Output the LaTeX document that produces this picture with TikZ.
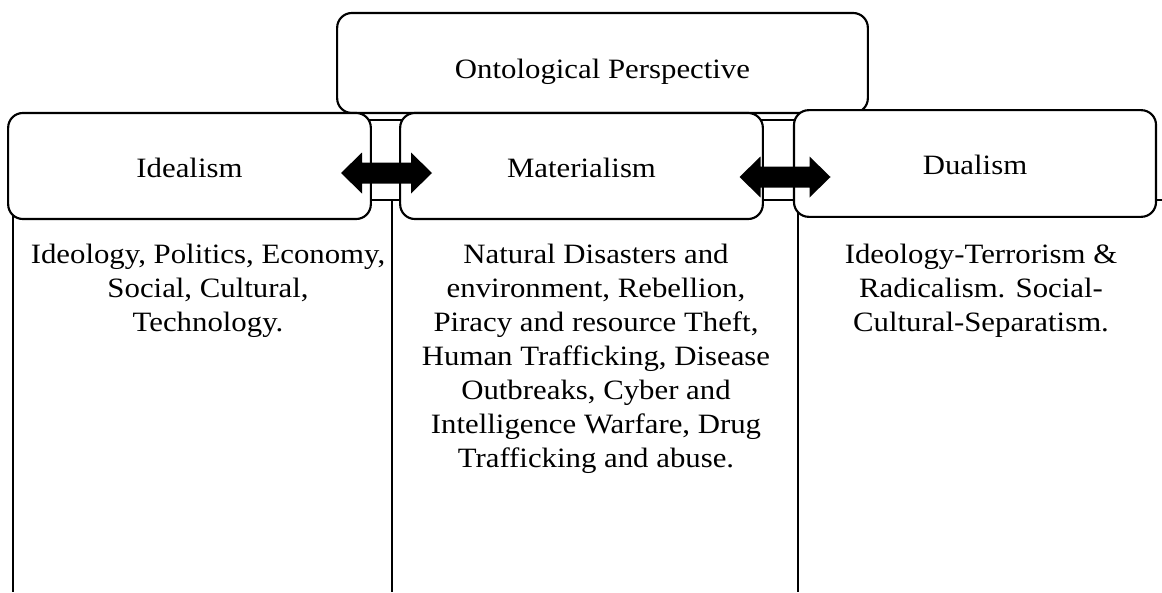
\documentclass[tikz,border=0pt]{standalone}
\usepackage{fontspec}
\setmainfont{Liberation Serif}[FakeStretch=1.1]
\begin{document}
\begin{tikzpicture}[x=0.75pt,y=-0.75pt,
  box/.style={draw, line width=1.6pt, rounded corners=11pt, fill=white, inner sep=0pt,
    text height=17pt, text depth=0pt, font=\fontsize{21}{25.5}\selectfont},
  tbl/.style={draw, line width=1.1pt},
  celltext/.style={align=center, anchor=base, inner sep=0pt, font=\fontsize{21}{25.5}\selectfont},
  dblarr/.pic={\fill (-45.5,0) -- (-24.5,-20.5) -- (-24.5,-10.5) -- (24.5,-10.5) -- (24.5,-20.5) -- (45.5,0) -- (24.5,20.5) -- (24.5,10.5) -- (-24.5,10.5) -- (-24.5,20.5) -- cycle;}
]
\useasboundingbox (0,0) rectangle (1162,592);
% table
\coordinate (t1) at (13,120);
\coordinate (t2) at (1150,120);
\coordinate (r1) at (13,200);
\coordinate (r2) at (1162,200);
\coordinate (c0t) at (13,200);
\coordinate (c0b) at (13,592);
\coordinate (c1t) at (392,200);
\coordinate (c1b) at (392,592);
\coordinate (c2t) at (798,200);
\coordinate (c2b) at (798,592);
\draw[tbl] (t1) -- (t2);
\draw[tbl] (r1) -- (r2);
\draw[tbl] (c0t) -- (c0b);
\draw[tbl] (c1t) -- (c1b);
\draw[tbl] (c2t) -- (c2b);
% boxes
\node[box, text height=24pt, minimum width=398pt, minimum height=75pt] (onto) at (602.5,63) {Ontological Perspective};
\node[box, minimum width=272pt, minimum height=79.5pt] (ideal) at (189.5,166) {Idealism};
\node[box, minimum width=272pt, minimum height=79.5pt] (mater) at (581.5,166) {Materialism};
\node[box, minimum width=271.5pt, minimum height=80pt] (dual) at (975,163.5) {Dualism};
% arrows
\pic (arrA) at (386.5,173) {dblarr};
\pic (arrB) at (785,177) {dblarr};
% cell texts (base anchor = last line baseline)
\node[celltext] (txt1) at (208,331) {Ideology, Politics, Economy,\\Social, Cultural,\\Technology.};
\node[celltext] (txt2) at (596,467) {Natural Disasters and\\environment, Rebellion,\\Piracy and resource Theft,\\Human Trafficking, Disease\\Outbreaks, Cyber and\\Intelligence Warfare, Drug\\Trafficking and abuse.};
\node[celltext] (txt3) at (981,331) {Ideology-Terrorism \&\\Radicalism. Social-\\Cultural-Separatism.};
\end{tikzpicture}
\end{document}
